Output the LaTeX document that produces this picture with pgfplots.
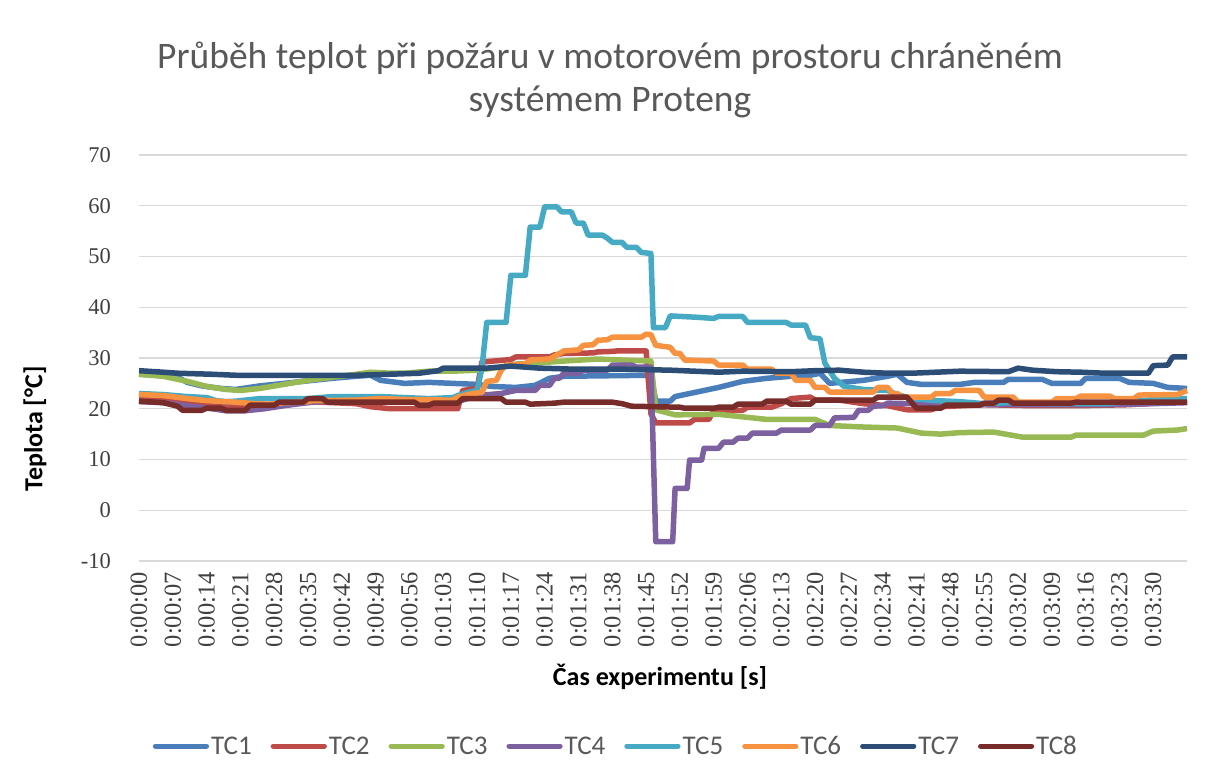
\documentclass[border=0pt]{standalone}
\usepackage{pgfplots}
\pgfplotsset{compat=1.18}
\usepackage{fontspec}
\setmainfont{Carlito}
\newfontfamily\serifnum{Liberation Serif}
\definecolor{c1}{HTML}{4A7EBB}
\definecolor{c2}{HTML}{BE4B48}
\definecolor{c3}{HTML}{98B954}
\definecolor{c4}{HTML}{7D60A0}
\definecolor{c5}{HTML}{46AAC5}
\definecolor{c6}{HTML}{F69240}
\definecolor{c7}{HTML}{2C4D75}
\definecolor{c8}{HTML}{772C2A}
\definecolor{gridgray}{HTML}{D9D9D9}
\definecolor{tickgray}{HTML}{404040}
\definecolor{titlegray}{HTML}{595959}
\begin{document}
\begin{tikzpicture}[x=1pt,y=1pt]
\useasboundingbox (0,0) rectangle (1206,781);
\node[font=\fontsize{37.5}{43}\selectfont, text=titlegray, align=center] at (610,701) {Průběh teplot při požáru v motorovém prostoru chráněném\\systémem Proteng};
\node[font=\bfseries\fontsize{26}{30}\selectfont, rotate=90] at (35,352) {Teplota [°C]};
\node[font=\bfseries\fontsize{26}{30}\selectfont] at (660,104) {Čas experimentu [s]};
\begin{axis}[
  at={(139pt,220pt)}, anchor=south west,
  scale only axis, width=1048pt, height=406pt,
  xmin=0, xmax=217, ymin=-10, ymax=70,
  ytick={-10,0,...,70},
  xtick={0,7,...,210},
  xticklabels={0:00:00,0:00:07,0:00:14,0:00:21,0:00:28,0:00:35,0:00:42,0:00:49,0:00:56,0:01:03,0:01:10,0:01:17,0:01:24,0:01:31,0:01:38,0:01:45,0:01:52,0:01:59,0:02:06,0:02:13,0:02:20,0:02:27,0:02:34,0:02:41,0:02:48,0:02:55,0:03:02,0:03:09,0:03:16,0:03:23,0:03:30},
  axis line style={draw=none},
  major tick length=0pt,
  ymajorgrids, grid style={color=gridgray, line width=1.3pt},
  tick label style={text=tickgray},
  y tick label style={font=\serifnum\fontsize{22.5}{22.5}\selectfont, anchor=east, inner xsep=28pt, inner ysep=0pt},
  x tick label style={font=\serifnum\fontsize{24.5}{24.5}\selectfont, rotate=90, anchor=east, inner xsep=11pt, inner ysep=0pt},
  /pgf/number format/assume math mode=true,
  clip=false,
  every axis plot/.append style={line width=5.5pt, line join=round, mark=none},
  legend columns=8,
  legend style={at={(0.455,-0.456)}, anchor=center, draw=none, fill=none,
    font=\fontsize{27}{30}\selectfont, text=titlegray,
    nodes={inner xsep=2pt},
    /tikz/every even column/.append style={column sep=17pt}},
  legend image code/.code={\draw[#1, line width=5.2pt, line cap=round] (2pt,0pt) -- (53pt,0pt);},
]
% TC1
\addplot[c1] coordinates {(0,26.8)(5,26.5)(8,26.2)(10,25.2)(13,24.5)(17,24.0)(20,23.8)(25,24.5)(30,25.0)(35,25.5)(40,26.0)(45,26.4)(48,26.6)(50,25.6)(55,25.0)(60,25.2)(65,25.0)(70,24.8)(73,24.4)(78,24.2)(82,24.6)(85,26.0)(88,26.4)(106,26.6)(107,21.5)(110,21.5)(111,22.4)(114,23.0)(117,23.6)(120,24.2)(125,25.4)(130,26.0)(135,26.4)(139,26.6)(141,27.0)(143,25.0)(150,25.6)(155,26.4)(157,26.8)(159,25.2)(162,24.8)(170,24.8)(173,25.2)(179,25.2)(180,25.8)(187,25.8)(189,25.0)(195,25.0)(196,26.0)(203,26.0)(205,25.2)(210,25.0)(213,24.2)(217,24.0)};
% TC2
\addplot[c2] coordinates {(0,22.0)(5,21.8)(10,21.4)(15,21.0)(20,20.4)(25,20.6)(30,21.0)(35,21.4)(40,21.2)(45,21.0)(48,20.4)(52,20.0)(66,20.0)(67,23.6)(70,24.0)(71,29.2)(77,29.7)(78,30.2)(85,30.2)(86,30.6)(88,30.9)(94,31.0)(95,31.2)(98,31.3)(99,31.4)(105,31.4)(106,19.0)(107,17.2)(114,17.2)(115,17.9)(118,17.9)(119,19.7)(125,19.7)(126,20.3)(131,20.3)(133,21.0)(135,22.0)(139,22.3)(140,21.7)(145,21.7)(150,21.0)(155,20.6)(159,19.8)(164,19.8)(166,20.4)(175,20.8)(185,20.6)(195,20.6)(205,20.8)(212,21.2)(217,21.3)};
% TC3
\addplot[c3] coordinates {(0,26.8)(5,26.4)(10,25.4)(14,24.4)(18,23.8)(21,23.6)(25,24.0)(30,24.8)(35,25.6)(40,26.2)(45,26.8)(48,27.2)(52,27.0)(55,27.0)(60,27.4)(65,27.4)(70,27.6)(75,28.2)(78,28.8)(82,29.0)(88,29.4)(95,29.8)(100,29.6)(106,29.4)(107,19.8)(111,18.8)(120,18.9)(126,18.3)(130,17.9)(140,17.9)(143,16.7)(150,16.4)(157,16.2)(162,15.2)(166,15.0)(170,15.3)(177,15.4)(183,14.4)(193,14.4)(194,14.8)(208,14.8)(210,15.6)(215,15.8)(217,16.1)};
% TC4
\addplot[c4] coordinates {(0,21.4)(5,21.2)(10,20.6)(15,20.0)(18,19.6)(22,19.6)(26,20.0)(30,20.6)(35,21.2)(40,21.6)(45,22.0)(55,22.0)(65,21.8)(67,21.7)(70,22.6)(75,23.0)(78,23.6)(82,23.6)(83,24.6)(85,24.6)(86,26.0)(87,26.0)(88,27.0)(91,27.0)(92,27.6)(97,27.6)(98,28.6)(102,28.6)(103,28.2)(106,28.2)(107,-6.2)(110.5,-6.2)(111,4.3)(113.5,4.3)(114,9.9)(116.5,9.9)(117,12.2)(120,12.2)(121,13.4)(123,13.4)(124,14.2)(126,14.2)(127,15.2)(132,15.2)(133,15.8)(139,15.8)(140,16.7)(143,16.7)(144,18.2)(148,18.3)(149,19.7)(151,19.7)(152,20.5)(154,20.6)(155,21.1)(160,21.0)(170,20.8)(180,20.8)(190,20.8)(200,20.8)(210,21.0)(217,21.2)};
% TC5
\addplot[c5] coordinates {(0,23.0)(5,22.8)(10,22.4)(14,22.2)(16,21.6)(18,21.4)(20,21.5)(22,21.7)(25,22.0)(35,22.0)(40,22.4)(50,22.4)(60,22.0)(65,22.2)(66,22.6)(68,23.2)(70,23.6)(71,28.0)(72,37.0)(76,37.0)(77,46.3)(80,46.3)(81,55.8)(83,55.8)(84,59.8)(86.5,59.8)(87.5,58.8)(89.5,58.8)(90.5,56.6)(92,56.6)(93,54.2)(96,54.2)(97,53.6)(98,52.8)(100,52.8)(101,51.8)(103,51.8)(104,50.8)(106,50.6)(106.5,36.0)(109,36.0)(110,38.3)(116,38.0)(119,37.8)(120,38.2)(125,38.2)(126,37.0)(134,37.0)(135,36.5)(138,36.5)(139,34.0)(141,33.8)(142,29.0)(144,26.0)(146,24.4)(150,23.8)(155,23.6)(157,22.8)(160,22.0)(165,21.6)(170,21.4)(175,21.0)(180,21.2)(190,21.0)(200,21.0)(205,21.4)(210,21.8)(217,22.0)};
% TC6
\addplot[c6] coordinates {(0,22.8)(5,22.6)(10,22.0)(14,21.6)(20,21.3)(24,21.0)(27,20.9)(30,21.2)(34,21.3)(36,21.6)(45,21.7)(50,22.0)(56,21.8)(65,21.7)(66,22.3)(69,23.0)(71,23.2)(72,25.4)(74,25.6)(75,27.6)(76,28.6)(80,28.8)(81,29.6)(85,29.8)(86,30.3)(88,31.4)(91,31.6)(92,32.5)(94,32.6)(95,33.5)(97,33.6)(98,34.1)(104,34.1)(105,34.7)(106,34.6)(107,32.5)(110,32.1)(111,30.9)(112,30.9)(113,29.6)(119,29.4)(120,28.6)(125,28.6)(126,27.8)(131,27.8)(132,27.0)(135,27.0)(136,25.6)(139,25.6)(140,24.2)(142,24.2)(143,23.3)(152,23.3)(153,24.2)(155,24.2)(156,23.0)(157,23.0)(158,22.3)(164,22.3)(165,23.0)(168,23.0)(169,23.6)(174,23.6)(175,22.3)(181,22.3)(182,21.3)(189,21.3)(190,22.0)(194,22.0)(195,22.5)(201,22.5)(202,22.0)(206,22.0)(207,22.7)(215,22.8)(217,23.6)};
% TC7
\addplot[c7] coordinates {(0,27.5)(5,27.2)(8,27.0)(15,26.8)(20,26.6)(45,26.6)(52,26.8)(58,27.0)(62,27.5)(63,28.0)(72,28.0)(77,28.4)(83,28.0)(90,27.8)(100,27.8)(110,27.6)(120,27.2)(125,27.4)(135,27.3)(140,27.5)(145,27.6)(150,27.2)(155,27.0)(160,27.0)(170,27.4)(180,27.3)(182,28.0)(185,27.6)(190,27.3)(195,27.2)(200,27.0)(209,27.0)(210,28.5)(213,28.6)(214,30.2)(217,30.2)};
% TC8
\addplot[c8] coordinates {(0,21.5)(5,21.2)(8,20.5)(9,19.7)(13,19.7)(14,20.1)(17,20.1)(18,19.7)(22,19.7)(23,20.7)(28,20.7)(29,21.3)(34,21.3)(35,22.0)(38,22.0)(39,21.3)(57,21.3)(58,20.7)(60,20.7)(61,21.1)(66,21.1)(67,22.0)(75,22.0)(76,21.3)(80,21.3)(81,20.9)(86,21.1)(88,21.3)(98,21.3)(100,21.0)(102,20.5)(112,20.3)(113,20.1)(119,20.1)(120,20.3)(123,20.3)(124,20.9)(129,20.9)(130,21.5)(134,21.5)(135,20.9)(139,20.9)(140,21.7)(152,21.7)(153,22.3)(159,22.3)(161,20.1)(166,20.1)(167,20.7)(174,20.7)(175,21.1)(177,21.1)(178,21.7)(180,21.7)(181,21.1)(193,21.1)(194,21.3)(217,21.3)};
\legend{TC1,TC2,TC3,TC4,TC5,TC6,TC7,TC8}
\end{axis}
\end{tikzpicture}
\end{document}
